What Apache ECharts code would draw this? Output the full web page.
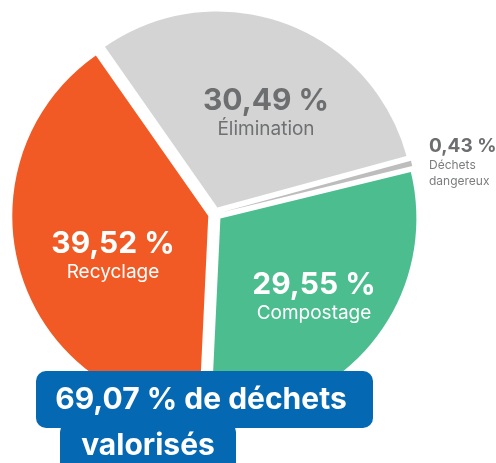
<!DOCTYPE html>
<html>
<head>
<meta charset="utf-8">
<script src="https://cdn.jsdelivr.net/npm/echarts@6/dist/echarts.min.js"></script>
<style>
  html, body { margin: 0; padding: 0; background: #fff; }
  #chart { width: 496px; height: 463px; }
</style>
</head>
<body>
<div id="chart"></div>
<script>
// waste treatment shares (clockwise from the upper left)
const categories = ['Élimination', 'Déchets dangereux', 'Compostage', 'Recyclage'];
const shares = [30.49, 0.43, 29.55, 39.52];
const nameLines = ['Élimination', 'Déchets\ndangereux', 'Compostage', 'Recyclage'];
const totalLines = ['69,07 % de déchets', 'valorisés'];

const colors = ['#d3d4d3', '#bcbdbc', '#4cbd8e', '#f15a24'];
const fontFamily = 'Inter, "Noto Sans", sans-serif';

// label blocks: anchor point, block centred vertically
const labelSpots = [
    { x: 266, y: 113, align: 'center', big: true, dark: true },
    { x: 429, y: 162, align: 'left', big: false, dark: true },
    { x: 314, y: 297, align: 'center', big: true, dark: false },
    { x: 113, y: 256, align: 'center', big: true, dark: false }
];

const fmt = (v) => v.toFixed(2).replace('.', ',') + ' %';

const rich = {
    vBd: { fontFamily, fontSize: 30, fontWeight: 'bold', fill: '#6d6e70', lineHeight: 32, align: 'center' },
    nBd: { fontFamily, fontSize: 19, fill: '#6f7072', lineHeight: 24, align: 'center' },
    vBw: { fontFamily, fontSize: 30, fontWeight: 'bold', fill: '#ffffff', lineHeight: 32, align: 'center' },
    nBw: { fontFamily, fontSize: 19, fill: '#ffffff', lineHeight: 24, align: 'center' },
    vSd: { fontFamily, fontSize: 19, fontWeight: 'bold', fill: '#6d6e70', lineHeight: 22, align: 'left' },
    nSd: { fontFamily, fontSize: 12, fill: '#7c7d7f', lineHeight: 16, align: 'left' }
};

const sliceLabels = categories.map((c, i) => {
    const s = labelSpots[i];
    const tone = s.dark ? 'd' : 'w';
    const size = s.big ? 'B' : 'S';
    const lines = nameLines[i].split('\n').map(t => '{n' + size + tone + '|' + t + '}');
    return {
        type: 'text', z: 50, x: s.x, y: s.y,
        style: {
            text: '{v' + size + tone + '|' + fmt(shares[i]) + '}\n' + lines.join('\n'),
            rich: rich, align: s.align, verticalAlign: 'middle', fontFamily
        }
    };
});

const el = document.getElementById('chart');
const chart = echarts.init(el, null, { renderer: 'canvas' });

const option = {
    backgroundColor: '#ffffff',
    animation: false,
    color: colors,
    series: [{
        type: 'pie',
        center: [215, 214],
        radius: [0, 196],
        startAngle: 125,
        clockwise: true,
        selectedMode: 'multiple',
        selectedOffset: 7,
        emphasis: { disabled: true },
        label: { show: false },
        labelLine: { show: false },
        data: categories.map((c, i) => ({ name: c, value: shares[i], selected: true }))
    }],
    graphic: sliceLabels.concat([
        {
            type: 'rect', z: 100,
            shape: { x: 60, y: 422, width: 176, height: 60, r: 10 },
            style: { fill: '#0568b3' }
        },
        {
            type: 'rect', z: 101,
            shape: { x: 36, y: 371, width: 337, height: 57, r: 10 },
            style: { fill: '#0568b3' }
        },
        {
            type: 'text', z: 102, x: 201, y: 400,
            style: {
                text: totalLines[0], fill: '#ffffff', fontFamily,
                fontSize: 30, fontWeight: 'bold', align: 'center', verticalAlign: 'middle'
            }
        },
        {
            type: 'text', z: 102, x: 148, y: 446,
            style: {
                text: totalLines[1], fill: '#ffffff', fontFamily,
                fontSize: 30, fontWeight: 'bold', align: 'center', verticalAlign: 'middle'
            }
        }
    ])
};

chart.setOption(option, true);
window.addEventListener('resize', () => chart.resize());
</script>
</body>
</html>
